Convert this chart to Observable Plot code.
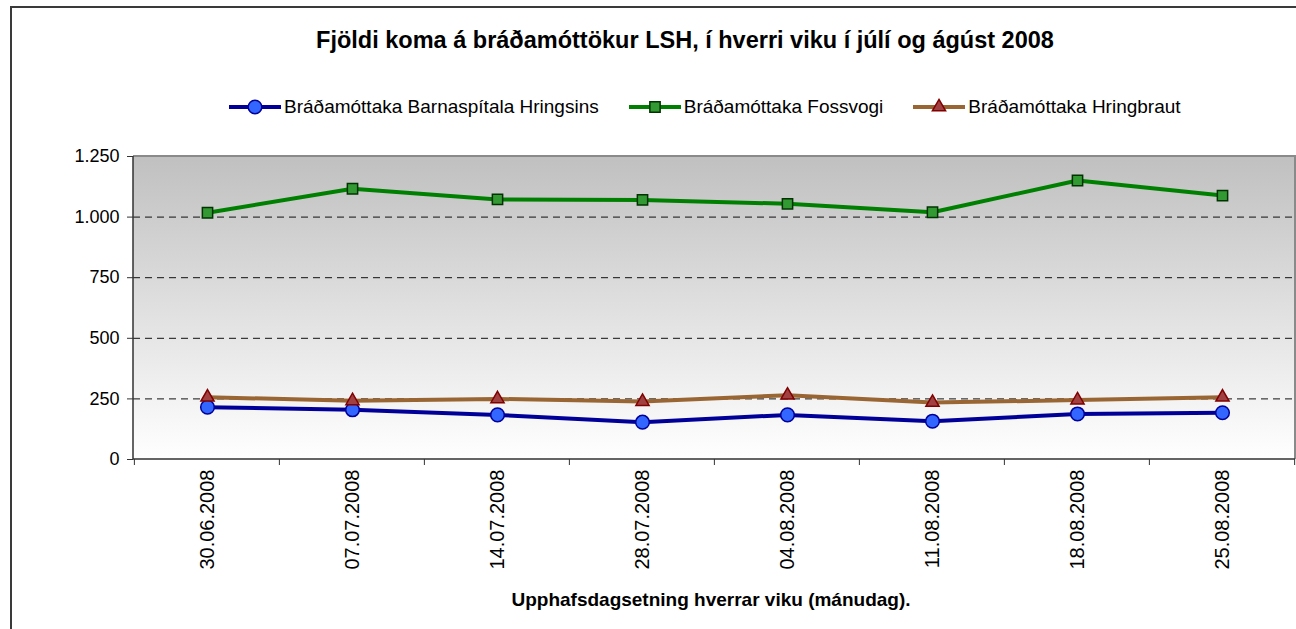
<!DOCTYPE html>
<html>
<head>
<meta charset="utf-8">
<script src="https://cdn.jsdelivr.net/npm/d3@7"></script>
<script src="https://cdn.jsdelivr.net/npm/@observablehq/plot@0.6"></script>
<style>
  html, body { margin: 0; padding: 0; background: #fff; overflow: hidden; width: 1296px; height: 629px; }
  body { position: relative; font-family: "Liberation Sans", Arial, sans-serif; color: #000; }
  #frame { position: absolute; left: 10px; top: 6px; width: 1320px; height: 660px; border: 2px solid #3a3a3a; box-sizing: border-box; }
  #title { position: absolute; left: 685px; top: 27px; transform: translateX(-50%); white-space: nowrap; font-weight: bold; font-size: 23.5px; }
  #legend { position: absolute; left: 229px; top: 96px; display: flex; align-items: center; white-space: nowrap; font-size: 19px; }
  .item { display: flex; align-items: center; margin-right: 30px; }
  .item svg { display: block; margin-right: 3px; }
  #chart { position: absolute; left: 0; top: 140px; }
  #xtitle { position: absolute; left: 711px; top: 589px; transform: translateX(-50%); white-space: nowrap; font-weight: bold; font-size: 19px; }
</style>
</head>
<body>
<div id="frame"></div>
<div id="title"></div>
<div id="legend"></div>
<div id="chart"></div>
<div id="xtitle"></div>
<script>
const titleText = "Fjöldi koma á bráðamóttökur LSH, í hverri viku í júlí og ágúst 2008";
const xTitleText = "Upphafsdagsetning hverrar viku (mánudag).";
const weeks = ["30.06.2008", "07.07.2008", "14.07.2008", "28.07.2008", "04.08.2008", "11.08.2008", "18.08.2008", "25.08.2008"];
const seriesNames = ["Bráðamóttaka Barnaspítala Hringsins", "Bráðamóttaka Fossvogi", "Bráðamóttaka Hringbraut"];
const barnaspitali = [216, 205, 184, 154, 184, 158, 188, 193];
const fossvogur = [1018, 1117, 1073, 1071, 1055, 1020, 1151, 1089];
const hringbraut = [257, 242, 250, 239, 265, 235, 245, 257];
const yTicks = [0, 250, 500, 750, 1000, 1250];
const gridValues = [250, 500, 750, 1000];

const styles = [
  {line: "#000099", symbol: "circle", r: 6.8, fill: "#3366ff", stroke: "#000099"},
  {line: "#008000", symbol: "square", r: 5.8, fill: "#339933", stroke: "#003300"},
  {line: "#996633", symbol: "triangle", r: 4.9, fill: "#a04040", stroke: "#800000"}
];
const allValues = [barnaspitali, fossvogur, hringbraut];
const rows = allValues.map((vals, i) => weeks.map((w, j) => ({week: w, value: vals[j], series: seriesNames[i]})));

const fmt = (() => { const f = d3.formatLocale({thousands: ".", grouping: [3], decimal: ","}).format(","); return d => f(d); })();

document.getElementById("title").textContent = titleText;
document.getElementById("xtitle").textContent = xTitleText;

// Legend
const legend = d3.select("#legend");
seriesNames.forEach((name, i) => {
  const s = styles[i];
  const item = legend.append("div").attr("class", "item");
  const svg = item.append("svg").attr("width", 52).attr("height", 20);
  svg.append("line").attr("x1", 0).attr("x2", 52).attr("y1", 10).attr("y2", 10).attr("stroke", s.line).attr("stroke-width", 4);
  svg.append("path").attr("transform", "translate(26,10)")
    .attr("d", d3.symbol(s.symbol === "circle" ? d3.symbolCircle : s.symbol === "square" ? d3.symbolSquare : d3.symbolTriangle, Math.PI * s.r * s.r)())
    .attr("fill", s.fill).attr("stroke", s.stroke).attr("stroke-width", 1.5);
  item.append("span").text(name);
});

function backdrop(index, scales, values, dims) {
  const {width, height, marginLeft, marginRight, marginTop, marginBottom} = dims;
  const g = d3.create("svg:g");
  const lg = g.append("defs").append("linearGradient").attr("id", "plotbg").attr("x1", 0).attr("y1", 0).attr("x2", 0).attr("y2", 1);
  lg.append("stop").attr("offset", "0%").attr("stop-color", "#c0c0c0");
  lg.append("stop").attr("offset", "100%").attr("stop-color", "#ffffff");
  g.append("rect").attr("x", marginLeft).attr("y", marginTop)
    .attr("width", width - marginLeft - marginRight).attr("height", height - marginTop - marginBottom)
    .attr("fill", "url(#plotbg)");
  return g.node();
}

function axesLines(index, scales, values, dims) {
  const {width, height, marginLeft, marginRight, marginTop, marginBottom} = dims;
  const x0 = marginLeft, x1 = width - marginRight, y0 = marginTop, y1 = height - marginBottom;
  const g = d3.create("svg:g");
  g.append("path").attr("d", `M${x0},${y0}H${x1}V${y1}`).attr("fill", "none").attr("stroke", "#8a8a8a").attr("stroke-width", 2);
  g.append("path").attr("d", `M${x0},${y0}V${y1}H${x1}`).attr("fill", "none").attr("stroke", "#333").attr("stroke-width", 1.5);
  const step = (x1 - x0) / weeks.length;
  const edges = weeks.map(w => scales.x(w) - step / 2).concat([scales.x(weeks[weeks.length - 1]) + step / 2]);
  edges.forEach(e => {
    g.append("line").attr("x1", e).attr("x2", e).attr("y1", y1).attr("y2", y1 + 6).attr("stroke", "#333").attr("stroke-width", 1);
  });
  return g.node();
}

const marks = [
  backdrop,
  Plot.ruleY(gridValues, {stroke: "#111", strokeWidth: 1, strokeDasharray: "7,5"}),
  axesLines,
  Plot.axisY({ticks: yTicks, tickSize: 6, tickPadding: 8, tickFormat: fmt, fontSize: 18, stroke: "#333", fill: "#000"}),
  Plot.axisX({tickSize: 0, tickPadding: 10, tickRotate: -90, fontSize: 20, fill: "#000"})
];
rows.forEach((data, i) => {
  const s = styles[i];
  marks.push(Plot.line(data, {x: "week", y: "value", stroke: s.line, strokeWidth: 4, strokeLinejoin: "round"}));
  marks.push(Plot.dot(data, {x: "week", y: "value", symbol: s.symbol, r: s.r, fill: s.fill, stroke: s.stroke, strokeWidth: 1.5}));
});

const plot = Plot.plot({
  width: 1296,
  height: 489,
  marginLeft: 133,
  marginRight: 1,
  marginTop: 16,
  marginBottom: 170,
  style: {fontFamily: "Liberation Sans, Arial, sans-serif", fontSize: "18px", background: "transparent", overflow: "visible"},
  x: {type: "point", domain: weeks, padding: 0.5, label: null},
  y: {domain: [0, 1250], label: null},
  marks
});
document.getElementById("chart").appendChild(plot);
</script>
</body>
</html>
